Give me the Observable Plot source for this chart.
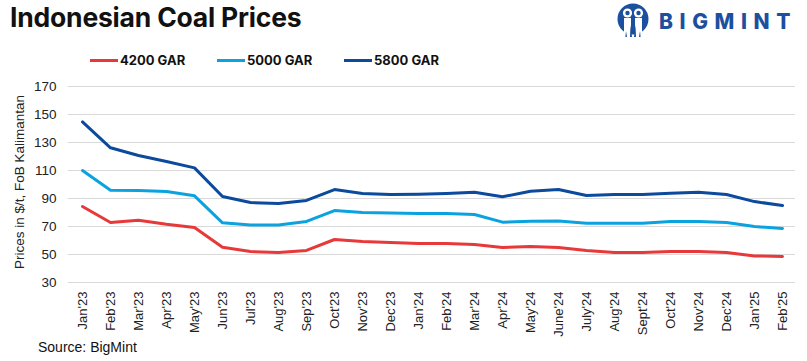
<!DOCTYPE html>
<html>
<head>
<meta charset="utf-8">
<script src="https://cdn.jsdelivr.net/npm/d3@7"></script>
<script src="https://cdn.jsdelivr.net/npm/@observablehq/plot@0.6"></script>
<style>
  html, body { margin: 0; padding: 0; background: #fff; }
  body { width: 807px; height: 361px; position: relative; overflow: hidden; font-family: "Liberation Sans", Arial, sans-serif; }
  #title { position: absolute; left: 10px; top: 1px; font-family: Inter, "Liberation Sans", sans-serif; font-weight: 700; font-size: 26.5px; letter-spacing: -0.2px; color: #111; }
  #legend { position: absolute; top: 51px; left: 0; height: 18px; width: 500px; font-family: Inter, "Liberation Sans", sans-serif; font-weight: 700; font-size: 13px; color: #111; }
  .li { position: absolute; top: 0; display: flex; align-items: center; height: 18px; }
  .sw { width: 28px; height: 3px; margin-right: 2px; }
  #logo { position: absolute; left: 617px; top: 3px; }
  #brand { position: absolute; left: 659px; top: 9px; font-family: Inter, "Liberation Sans", sans-serif; font-weight: 800; font-size: 21px; letter-spacing: 6.6px; color: #1d4f9f; }
  #ylabel { position: absolute; left: 19px; top: 182px; transform: translate(-50%, -50%) rotate(-90deg); white-space: nowrap; font-size: 13.5px; color: #222; }
  #chart { position: absolute; left: 0; top: 70px; }
  #source { position: absolute; left: 38px; top: 339px; font-size: 14px; color: #111; }
</style>
</head>
<body>
<div id="title">Indonesian Coal Prices</div>
<div id="legend"></div>
<svg id="logo" width="36" height="36" viewBox="0 0 36 36">
  <circle cx="16" cy="16" r="15.5" fill="#1d4f9f"/>
  <circle cx="10.5" cy="10" r="4.6" fill="#fff"/>
  <circle cx="21.5" cy="10" r="4.6" fill="#fff"/>
  <circle cx="10.5" cy="10" r="2.2" fill="#1d4f9f"/>
  <circle cx="21.5" cy="10" r="2.2" fill="#1d4f9f"/>
  <path d="M7 15 h7 v17 h-7 z" fill="#fff"/>
  <path d="M18 15 h7 v17 h-7 z" fill="#fff"/>
  <path d="M13.5 22 l1.5 12 h-2 z M18.5 22 l-1.5 12 h2 z M9 28 l1 6 h-1.6 z M23 28 l-1 6 h1.6 z" fill="#1d4f9f"/>
</svg>
<div id="brand">BIGMINT</div>
<div id="ylabel">Prices in $/t, FoB Kalimantan</div>
<div id="chart"></div>
<div id="source">Source: BigMint</div>
<script>
const months = ["Jan'23","Feb'23","Mar'23","Apr'23","May'23","Jun'23","Jul'23","Aug'23","Sep'23","Oct'23","Nov'23","Dec'23","Jan'24","Feb'24","Mar'24","Apr'24","May'24","June'24","July'24","Aug'24","Sept'24","Oct'24","Nov'24","Dec'24","Jan'25","Feb'25"];
const seriesNames = ["4200 GAR","5000 GAR","5800 GAR"];
const gar4200 = [84.3,72.9,74.5,71.6,69.3,55.2,52.1,51.4,52.9,60.7,59.3,58.6,57.9,57.9,57.1,55.0,55.7,55.0,52.9,51.4,51.4,52.1,52.1,51.4,49.0,48.6];
const gar5000 = [110.0,95.9,95.8,95.0,91.9,72.6,71.1,71.1,73.6,81.4,80.0,79.7,79.3,79.3,78.6,73.1,73.8,74.0,72.4,72.4,72.4,73.6,73.6,72.9,70.0,68.6];
const gar5800 = [144.7,126.2,120.7,116.4,111.9,91.4,87.1,86.4,88.6,96.4,93.6,92.9,93.1,93.6,94.5,91.2,95.2,96.4,92.1,92.9,92.9,93.8,94.5,92.9,87.8,85.0];
const yTicks = [30,50,70,90,110,130,150,170];
const colors = ["#e8393a","#0aa3e0","#0b4a9c"];

const valuesBySeries = [gar4200, gar5000, gar5800];
const rows = [];
seriesNames.forEach((s, i) => months.forEach((m, j) => rows.push({series: s, month: m, value: valuesBySeries[i][j]})));

// legend
const legend = document.getElementById("legend");
const legendX = [90, 217, 344];
seriesNames.forEach((s, i) => {
  const d = document.createElement("div");
  d.className = "li";
  d.style.left = legendX[i] + "px";
  d.innerHTML = `<span class="sw" style="background:${colors[i]}"></span><span>${s}</span>`;
  legend.appendChild(d);
});

const chart = Plot.plot({
  width: 807,
  height: 270,
  marginTop: 16,
  marginBottom: 58,
  marginLeft: 68,
  marginRight: 12,
  style: {fontFamily: "'Liberation Sans', Arial, sans-serif", fontSize: "13px", color: "#222", background: "transparent"},
  x: {type: "point", domain: months, padding: 0.25, label: null},
  y: {domain: [30, 170], label: null},
  color: {domain: seriesNames, range: colors},
  marks: [
    Plot.gridY(yTicks, {stroke: "#d9d9d9", strokeOpacity: 1, strokeWidth: 1.2}),
    Plot.axisY(yTicks, {tickSize: 0, tickPadding: 12, fontSize: 13.5, label: null}),
    Plot.axisX({tickRotate: -90, tickSize: 0, tickPadding: 9, fontSize: 13, label: null}),
    Plot.line(rows, {x: "month", y: "value", z: "series", stroke: "series", strokeWidth: 3, strokeLinejoin: "round", strokeLinecap: "round"})
  ]
});
document.getElementById("chart").appendChild(chart);
</script>
</body>
</html>
